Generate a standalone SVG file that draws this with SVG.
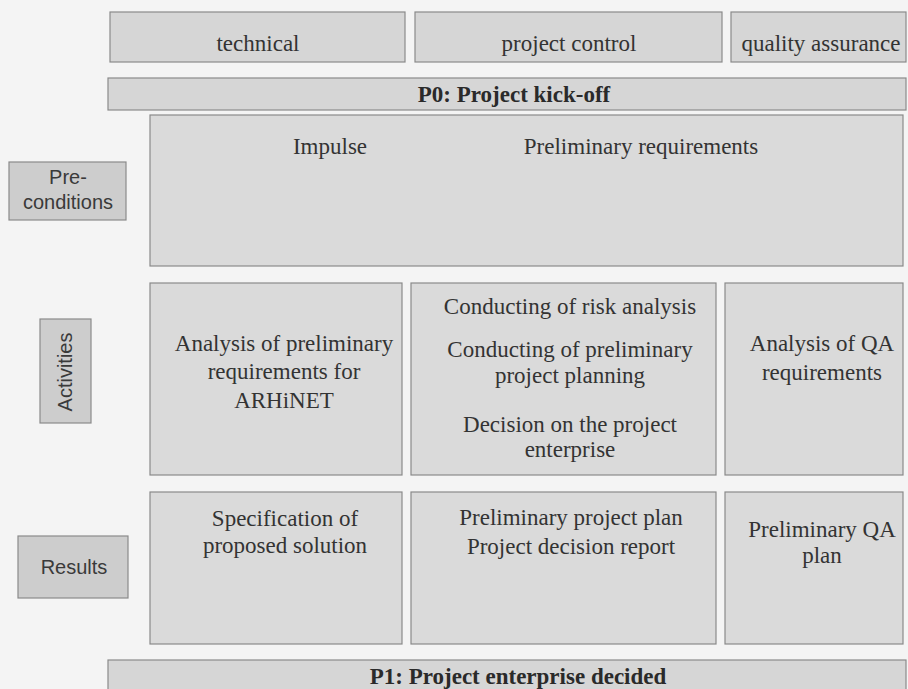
<svg xmlns="http://www.w3.org/2000/svg" width="908" height="689" viewBox="0 0 908 689">
  <style>
    .bg { fill: #f4f4f4; }
    .box { fill: #dadada; stroke: #8a8a8a; stroke-width: 1.2; }
    .bar { fill: #d6d6d6; stroke: #8a8a8a; stroke-width: 1.2; }
    .lbl { fill: #cdcdcd; stroke: #8a8a8a; stroke-width: 1.2; }
    .t { font-family: "Liberation Serif", "Times New Roman", serif; font-size: 23px; fill: #333; text-anchor: middle; }
    .tb { font-family: "Liberation Serif", "Times New Roman", serif; font-size: 23px; font-weight: bold; fill: #2a2a2a; text-anchor: middle; }
    .s { font-family: "Liberation Sans", Arial, sans-serif; font-size: 20px; fill: #3a3a3a; text-anchor: middle; }
  </style>
  <rect class="bg" x="0" y="0" width="908" height="689"/>

  <g id="technical">
    <rect class="bar" x="110" y="12" width="295" height="50"/>
    <text class="t" x="258" y="51">technical</text>
  </g>
  <g id="project-control">
    <rect class="bar" x="415" y="12" width="307" height="50"/>
    <text class="t" x="569" y="51">project control</text>
  </g>
  <g id="quality-assurance">
    <rect class="bar" x="731" y="12" width="175" height="50"/>
    <text class="t" x="821" y="51">quality assurance</text>
  </g>

  <g id="p0">
    <rect class="bar" x="108" y="78" width="798" height="32"/>
    <text class="tb" x="514" y="102">P0: Project kick-off</text>
  </g>

  <g id="preconditions-label">
    <rect class="lbl" x="9" y="162" width="117" height="58"/>
    <text class="s" x="68" y="184">Pre-</text>
    <text class="s" x="68" y="209">conditions</text>
  </g>
  <g id="preconditions">
    <rect class="box" x="150" y="115" width="753" height="151"/>
    <text class="t" x="330" y="154">Impulse</text>
    <text class="t" x="641" y="154">Preliminary requirements</text>
  </g>

  <g id="activities-label">
    <rect class="lbl" x="40" y="319" width="51" height="104"/>
    <text class="s" transform="translate(72,372) rotate(-90)" x="0" y="0">Activities</text>
  </g>
  <g id="act-technical">
    <rect class="box" x="150" y="283" width="252" height="192"/>
    <text class="t" x="284" y="351">Analysis of preliminary</text>
    <text class="t" x="284" y="379">requirements for</text>
    <text class="t" x="284" y="408">ARHiNET</text>
  </g>
  <g id="act-control">
    <rect class="box" x="411" y="283" width="305" height="192"/>
    <text class="t" x="570" y="314">Conducting of risk analysis</text>
    <text class="t" x="570" y="357">Conducting of preliminary</text>
    <text class="t" x="570" y="383">project planning</text>
    <text class="t" x="570" y="432">Decision on the project</text>
    <text class="t" x="570" y="457">enterprise</text>
  </g>
  <g id="act-qa">
    <rect class="box" x="725" y="283" width="178" height="192"/>
    <text class="t" x="822" y="351">Analysis of QA</text>
    <text class="t" x="822" y="380">requirements</text>
  </g>

  <g id="results-label">
    <rect class="lbl" x="18" y="536" width="110" height="62"/>
    <text class="s" x="74" y="574">Results</text>
  </g>
  <g id="res-technical">
    <rect class="box" x="150" y="492" width="252" height="152"/>
    <text class="t" x="285" y="526">Specification of</text>
    <text class="t" x="285" y="553">proposed solution</text>
  </g>
  <g id="res-control">
    <rect class="box" x="411" y="492" width="305" height="152"/>
    <text class="t" x="571" y="525">Preliminary project plan</text>
    <text class="t" x="571" y="554">Project decision report</text>
  </g>
  <g id="res-qa">
    <rect class="box" x="725" y="492" width="178" height="152"/>
    <text class="t" x="822" y="537">Preliminary QA</text>
    <text class="t" x="822" y="563">plan</text>
  </g>

  <g id="p1">
    <rect class="bar" x="108" y="660" width="798" height="34"/>
    <text class="tb" x="518" y="684">P1: Project enterprise decided</text>
  </g>

  <g id="connectors"/>
</svg>
